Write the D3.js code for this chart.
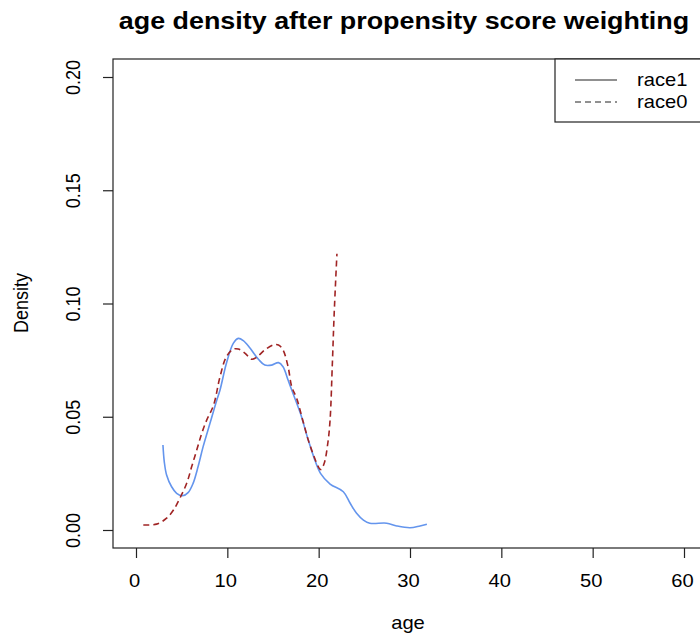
<!DOCTYPE html>
<html>
<head>
<meta charset="utf-8">
<script src="https://cdn.jsdelivr.net/npm/d3@7/dist/d3.min.js"></script>
<style>
  html, body { margin: 0; padding: 0; background: #fff; }
  svg { display: block; }
  text { font-family: "Liberation Sans", Arial, Helvetica, sans-serif; fill: #000; }
</style>
</head>
<body>
<svg id="chart" width="700" height="638"></svg>
<script>
// Weighted kernel density estimates of age, by group
const race1Age = [2.95, 3.1, 3.35, 3.9, 4.45, 5.1, 5.7, 6.25, 6.8, 7.35, 8.1, 8.85, 9.2, 9.9, 10.65, 11.2, 11.75, 12.5, 13.4, 14.1, 14.85, 15.6, 16.1, 16.65, 17.05, 18.0, 18.75, 19.45, 20.2, 21.25, 22.7, 23.45, 24.15, 24.9, 25.6, 27.45, 28.55, 30.0, 31.1, 31.85];
const race1Density = [0.0375, 0.030, 0.0243, 0.0191, 0.0162, 0.0151, 0.0165, 0.0206, 0.028, 0.0368, 0.0471, 0.0574, 0.0618, 0.0736, 0.0824, 0.0846, 0.0836, 0.0802, 0.0754, 0.0728, 0.0728, 0.0739, 0.0721, 0.0662, 0.0618, 0.0515, 0.0412, 0.0324, 0.025, 0.0203, 0.0169, 0.0118, 0.0074, 0.0044, 0.003, 0.003, 0.0018, 0.001, 0.0018, 0.0025];

const race0Age = [0.8, 2.25, 3.35, 4.1, 4.8, 5.55, 6.1, 6.65, 7.2, 7.75, 8.5, 9.2, 9.9, 10.65, 11.2, 11.95, 12.65, 13.2, 14.1, 15.05, 15.6, 16.1, 16.65, 17.05, 17.6, 18.35, 19.1, 20.23, 20.6, 21.0, 21.25, 21.5, 21.7, 22.0];
const race0Density = [0.0022, 0.0026, 0.0052, 0.0088, 0.014, 0.0206, 0.028, 0.0353, 0.0427, 0.0486, 0.0552, 0.0677, 0.0765, 0.0798, 0.0799, 0.078, 0.0754, 0.0762, 0.0795, 0.0817, 0.0817, 0.0795, 0.0721, 0.0633, 0.058, 0.0471, 0.0368, 0.0267, 0.0294, 0.0383, 0.0486, 0.0736, 0.0957, 0.122];

const xTicks = [0, 10, 20, 30, 40, 50, 60];
const yTicks = [0.00, 0.05, 0.10, 0.15, 0.20];
const legendLabels = ["race1", "race0"];

const titleText = "age density after propensity score weighting";
const xLabel = "age";
const yLabel = "Density";

const svg = d3.select("#chart");
const box = { left: 113, top: 59, right: 704, bottom: 548 };
const sx = 1.12; // horizontal glyph stretch

const x = d3.scaleLinear().domain([0, 60]).range([136, 684]);
const y = d3.scaleLinear().domain([0, 0.2]).range([530, 77]);

// Plot frame
svg.append("rect")
  .attr("x", box.left).attr("y", box.top)
  .attr("width", box.right - box.left).attr("height", box.bottom - box.top)
  .attr("fill", "none").attr("stroke", "#222").attr("stroke-width", 1.2);

// Left axis
const yAxis = svg.append("g")
  .attr("transform", `translate(${box.left},0)`)
  .call(d3.axisLeft(y).tickValues(yTicks).tickFormat(d3.format(".2f")).tickSize(10));
yAxis.select(".domain").remove();
yAxis.selectAll(".tick line").attr("stroke", "#222").attr("stroke-width", 1.2);
yAxis.selectAll(".tick text")
  .attr("x", null).attr("dy", null)
  .attr("text-anchor", "middle")
  .attr("font-size", 18)
  .attr("font-family", "Liberation Sans, Arial, sans-serif")
  .attr("fill", "#000")
  .attr("transform", `translate(-33,0) scale(${sx},1) rotate(-90)`);

// Bottom axis
const xAxis = svg.append("g")
  .attr("transform", `translate(0,${box.bottom})`)
  .call(d3.axisBottom(x).tickValues(xTicks).tickFormat(d3.format("d")).tickSize(10));
xAxis.select(".domain").remove();
xAxis.selectAll(".tick line").attr("stroke", "#222").attr("stroke-width", 1.2);
xAxis.selectAll(".tick text")
  .attr("y", null).attr("dy", null)
  .attr("text-anchor", "middle")
  .attr("font-size", 18)
  .attr("font-family", "Liberation Sans, Arial, sans-serif")
  .attr("fill", "#000")
  .attr("transform", `translate(-2,39) scale(${sx},1)`);

// Density curves
const line = d3.line()
  .x(d => x(d[0]))
  .y(d => y(d[1]))
  .curve(d3.curveCatmullRom.alpha(0.5));

svg.append("path")
  .datum(race1Age.map((a, i) => [a, race1Density[i]]))
  .attr("d", line)
  .attr("fill", "none")
  .attr("stroke", "#6495ED")
  .attr("stroke-width", 1.6);

svg.append("path")
  .datum(race0Age.map((a, i) => [a, race0Density[i]]))
  .attr("d", line)
  .attr("fill", "none")
  .attr("stroke", "#A02424")
  .attr("stroke-width", 1.6)
  .attr("stroke-dasharray", "6,4");

// Title and axis titles
svg.append("text")
  .attr("transform", `translate(404,29) scale(${sx},1)`)
  .attr("text-anchor", "middle")
  .attr("font-size", 24)
  .attr("font-weight", "bold")
  .text(titleText);

svg.append("text")
  .attr("transform", `translate(408,629) scale(${sx},1)`)
  .attr("text-anchor", "middle")
  .attr("font-size", 18)
  .text(xLabel);

svg.append("text")
  .attr("transform", `translate(28,303) scale(${sx},1) rotate(-90)`)
  .attr("text-anchor", "middle")
  .attr("font-size", 18)
  .text(yLabel);

// Legend
const legend = svg.append("g");
legend.append("rect")
  .attr("x", 555).attr("y", box.top)
  .attr("width", box.right - 555).attr("height", 63)
  .attr("fill", "#fff").attr("stroke", "#222").attr("stroke-width", 1.2);

const legendStyles = [
  { dash: null },
  { dash: "6,4" }
];
legendLabels.forEach((lab, i) => {
  const ly = 80 + i * 22;
  legend.append("line")
    .attr("x1", 575).attr("x2", 617)
    .attr("y1", ly).attr("y2", ly)
    .attr("stroke", "#222").attr("stroke-width", 1.2)
    .attr("stroke-dasharray", legendStyles[i].dash);
  legend.append("text")
    .attr("transform", `translate(637,${ly + 6}) scale(${sx},1)`)
    .attr("font-size", 18)
    .text(lab);
});
</script>
</body>
</html>
